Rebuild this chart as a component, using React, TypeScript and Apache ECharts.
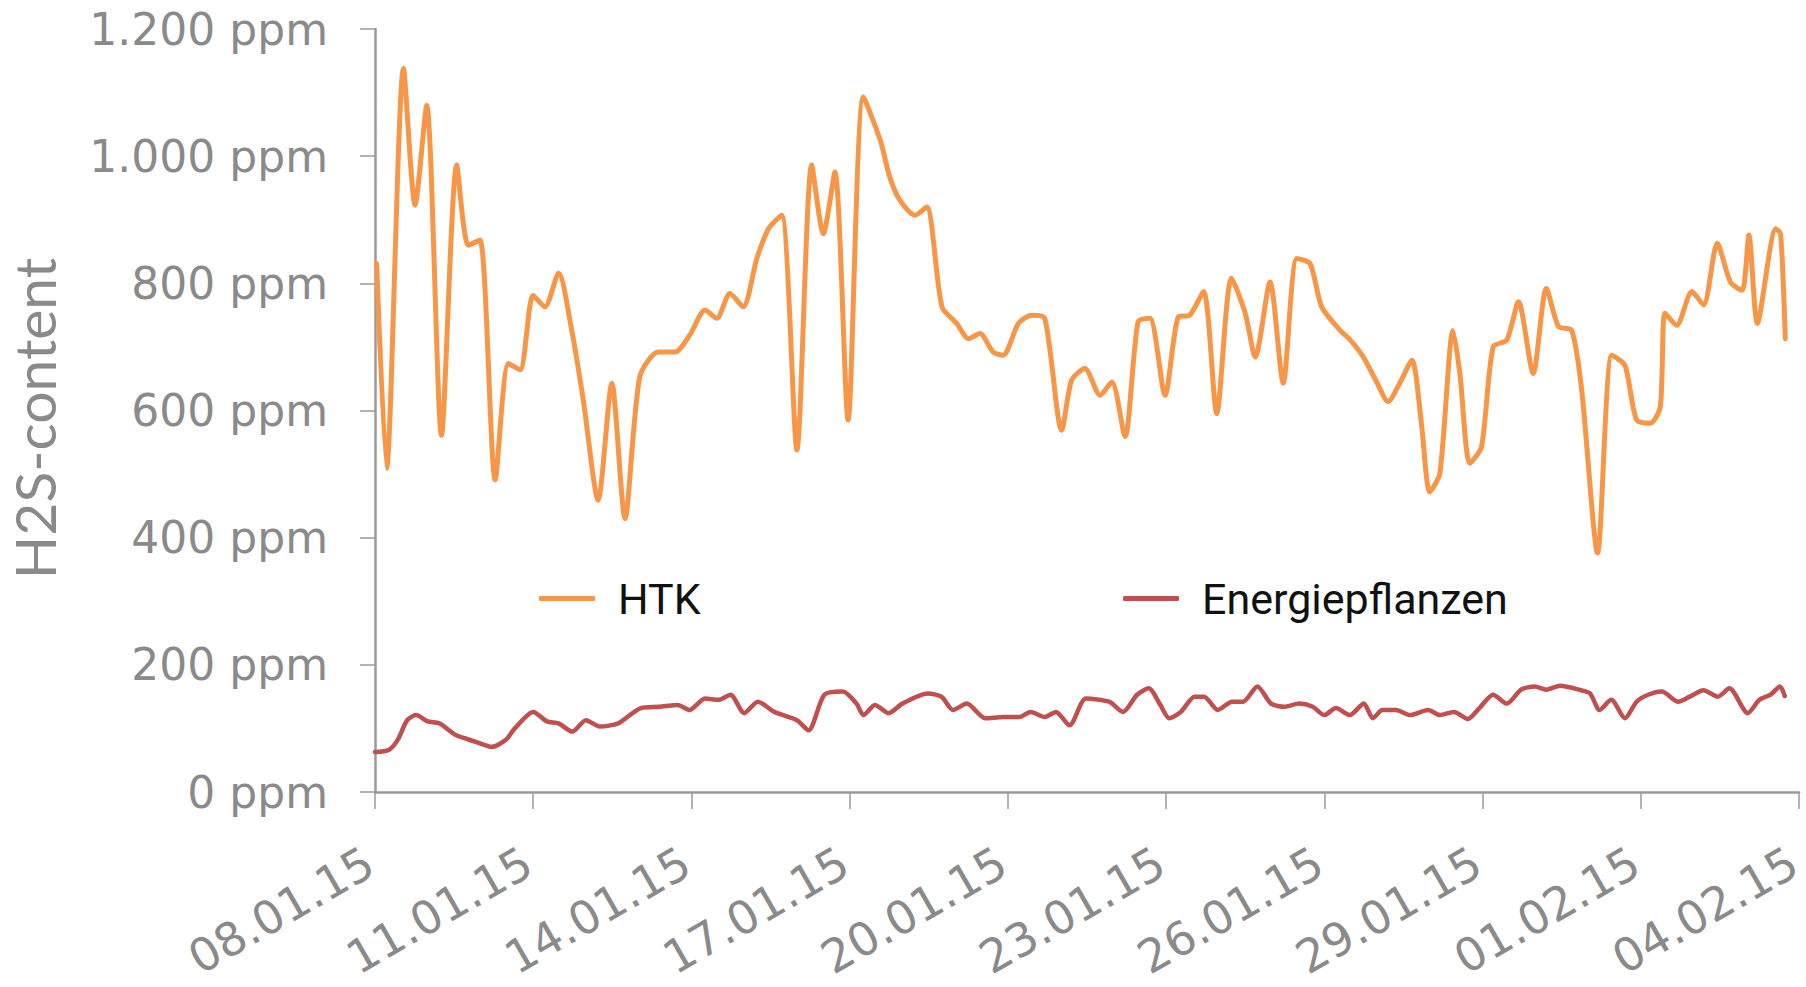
import React, { useEffect, useRef } from "react";
import * as echarts from "echarts";

// x = days since 08.01.15, y = H2S ppm
const htkDay = [0.03, 0.22, 0.54, 0.76, 0.98, 1.26, 1.55, 1.77, 1.99, 2.28, 2.53, 2.75, 3.0, 3.22, 3.48, 3.73, 3.95, 4.23, 4.49, 4.74, 5.02, 5.37, 5.69, 5.97, 6.26, 6.48, 6.73, 6.98, 7.24, 7.46, 7.71, 8.0, 8.28, 8.5, 8.72, 8.97, 9.26, 9.58, 9.76, 9.95, 10.24, 10.46, 10.75, 11.03, 11.25, 11.47, 11.72, 11.91, 12.2, 12.45, 12.7, 13.02, 13.21, 13.46, 13.75, 13.97, 14.22, 14.47, 14.69, 14.98, 15.23, 15.45, 15.71, 15.96, 16.24, 16.5, 16.69, 16.97, 17.22, 17.48, 17.73, 17.95, 18.3, 18.49, 18.74, 18.99, 19.21, 19.43, 19.66, 19.84, 20.0, 20.19, 20.44, 20.57, 20.76, 20.98, 21.2, 21.46, 21.68, 21.96, 22.21, 22.44, 22.69, 22.88, 23.18, 23.45, 23.7, 23.92, 24.18, 24.37, 24.46, 24.68, 24.97, 25.19, 25.45, 25.7, 25.92, 26.05, 26.21, 26.56, 26.65, 26.74];
const htkPpm = [831, 509, 1138, 923, 1080, 561, 986, 860, 868, 491, 674, 664, 781, 763, 816, 726, 616, 459, 643, 430, 653, 692, 692, 719, 758, 745, 784, 763, 839, 886, 907, 538, 986, 878, 975, 585, 1093, 1025, 967, 931, 907, 920, 763, 737, 713, 721, 692, 687, 737, 750, 745, 569, 648, 666, 624, 645, 559, 740, 745, 624, 747, 750, 787, 595, 808, 753, 684, 802, 643, 839, 831, 763, 726, 711, 684, 645, 614, 643, 679, 580, 472, 501, 726, 658, 517, 543, 700, 711, 771, 658, 792, 732, 726, 632, 376, 687, 671, 585, 580, 606, 753, 734, 787, 766, 863, 802, 789, 876, 737, 886, 878, 713];

const energyDay = [0.0, 0.26, 0.43, 0.61, 0.78, 1.0, 1.22, 1.52, 1.91, 2.22, 2.48, 2.65, 3.0, 3.26, 3.48, 3.74, 4.0, 4.26, 4.61, 5.04, 5.39, 5.74, 5.96, 6.26, 6.52, 6.74, 7.0, 7.26, 7.57, 8.0, 8.22, 8.52, 8.87, 9.13, 9.26, 9.48, 9.74, 10.0, 10.48, 10.74, 10.96, 11.22, 11.57, 11.91, 12.22, 12.43, 12.7, 12.91, 13.17, 13.48, 13.92, 14.18, 14.45, 14.67, 14.89, 15.06, 15.28, 15.54, 15.72, 15.98, 16.25, 16.46, 16.73, 16.99, 17.25, 17.52, 17.78, 18.0, 18.22, 18.48, 18.75, 18.92, 19.1, 19.36, 19.62, 19.97, 20.19, 20.46, 20.72, 20.94, 21.2, 21.46, 21.73, 21.99, 22.21, 22.47, 22.87, 23.04, 23.22, 23.44, 23.7, 23.92, 24.14, 24.4, 24.71, 24.93, 25.19, 25.46, 25.68, 26.03, 26.25, 26.46, 26.64, 26.73];
const energyPpm = [63, 66, 82, 113, 121, 111, 108, 90, 79, 71, 82, 100, 126, 111, 108, 95, 113, 103, 108, 132, 134, 137, 129, 147, 145, 153, 124, 142, 126, 113, 97, 153, 158, 139, 121, 137, 124, 139, 155, 150, 129, 139, 116, 118, 118, 126, 118, 126, 105, 147, 142, 126, 153, 163, 137, 116, 126, 150, 150, 129, 142, 142, 166, 139, 134, 139, 134, 121, 132, 121, 139, 116, 129, 129, 121, 129, 121, 126, 115, 132, 153, 139, 161, 166, 161, 167, 160, 155, 129, 145, 116, 142, 153, 158, 142, 150, 160, 150, 163, 124, 145, 153, 166, 151];

const xTickLabels = ["08.01.15", "11.01.15", "14.01.15", "17.01.15", "20.01.15", "23.01.15", "26.01.15", "29.01.15", "01.02.15", "04.02.15"];
const yTickLabels = ["0 ppm", "200 ppm", "400 ppm", "600 ppm", "800 ppm", "1.000 ppm", "1.200 ppm"];
const seriesNames = ["HTK", "Energiepflanzen"];

const LABEL_FONT = "'DejaVu Sans', Lato, sans-serif";
const NAME_FONT = "Lato, 'Noto Sans', sans-serif";
const LEGEND_FONT = "Roboto, 'Open Sans', sans-serif";
const AXIS_GRAY = "#9a9a9a";
const TEXT_GRAY = "#8a8a8a";

export default function App() {
  const ref = useRef<HTMLDivElement>(null);
  useEffect(() => {
    if (!ref.current) return;
    const chart = echarts.init(ref.current, undefined, { renderer: "svg" });
    const htk = htkDay.map((d, i) => [d, htkPpm[i]]);
    const energy = energyDay.map((d, i) => [d, energyPpm[i]]);
    const legendBase = {
      top: 577,
      padding: 0,
      icon: "roundRect",
      itemWidth: 56,
      itemHeight: 5,
      textStyle: { fontFamily: LEGEND_FONT, fontSize: 43, color: "#111", padding: [0, 0, 0, 18] },
    };
    chart.setOption({
      animation: false,
      backgroundColor: "#ffffff",
      grid: { left: 375, top: 29, width: 1424, height: 763, containLabel: false, outerBoundsMode: "none" },
      legend: [
        { ...legendBase, data: [seriesNames[0]], left: 539 },
        { ...legendBase, data: [seriesNames[1]], left: 1123 },
      ],
      xAxis: {
        type: "value",
        min: 0,
        max: 27,
        interval: 3,
        splitLine: { show: false },
        axisLine: { show: true, onZero: false, lineStyle: { color: AXIS_GRAY, width: 2.5 } },
        axisTick: { show: true, length: 17, lineStyle: { color: AXIS_GRAY, width: 1.5 } },
        axisLabel: {
          rotate: 30,
          margin: 64,
          padding: [0, 6, 0, 0],
          fontFamily: LABEL_FONT,
          fontSize: 46,
          color: TEXT_GRAY,
          formatter: (v: number) => xTickLabels[Math.round(v / 3)] ?? "",
        },
      },
      yAxis: {
        type: "value",
        min: 0,
        max: 1200,
        interval: 200,
        name: "H2S-content",
        nameLocation: "middle",
        nameRotate: 90,
        nameGap: 319,
        nameTextStyle: { fontFamily: NAME_FONT, fontSize: 57, lineHeight: 44, color: TEXT_GRAY, padding: [0, 16, 0, 0] },
        splitLine: { show: false },
        axisLine: { show: true, lineStyle: { color: AXIS_GRAY, width: 2.5 } },
        axisTick: { show: true, length: 15, lineStyle: { color: AXIS_GRAY, width: 1.5 } },
        axisLabel: {
          margin: 47,
          fontFamily: LABEL_FONT,
          fontSize: 44,
          color: TEXT_GRAY,
          formatter: (v: number) => yTickLabels[Math.round(v / 200)] ?? "",
        },
      },
      series: [
        {
          name: seriesNames[0],
          type: "line",
          data: htk,
          showSymbol: false,
          smooth: 0.25,
          lineStyle: { color: "#F79646", width: 5, cap: "round", join: "round" },
          itemStyle: { color: "#F79646" },
        },
        {
          name: seriesNames[1],
          type: "line",
          data: energy,
          showSymbol: false,
          smooth: 0.25,
          lineStyle: { color: "#C0504D", width: 4.5, cap: "round", join: "round" },
          itemStyle: { color: "#C0504D" },
        },
      ],
    });
    return () => chart.dispose();
  }, []);
  return <div ref={ref} style={{ position: "fixed", left: 0, top: 0, width: 1806, height: 987 }} />;
}
